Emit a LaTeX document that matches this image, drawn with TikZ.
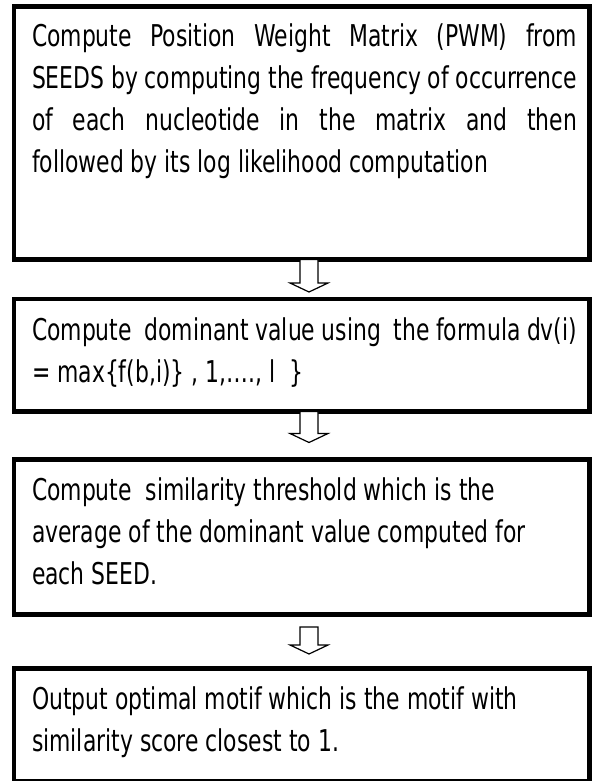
\documentclass[tikz,border=0pt]{standalone}
\usepackage{fontspec}
\setmainfont{DejaVu Sans}[FakeStretch=0.73]
\usetikzlibrary{calc}
\begin{document}
\begin{tikzpicture}[x=1pt,y=-1pt,
  stepbox/.style={draw=black, line width=4.5pt, inner sep=0pt, outer sep=0pt, minimum width=575.5pt, anchor=north west},
  txt/.style={inner sep=0pt, outer sep=0pt, anchor=base west, font=\fontsize{30}{42}\selectfont},
  blk/.style={draw=black, line width=1.2pt, fill=white, line join=miter}]
\useasboundingbox (0,0) rectangle (594,781);
\node[stepbox, minimum height=253pt] (b1) at (14,6.5) {};
\node[stepbox, minimum height=112.5pt] (b2) at (14,299) {};
\node[stepbox, minimum height=155pt] (b3) at (14,459.5) {};
\node[stepbox, minimum height=112.5pt] (b4) at (14,668.5) {};

\node[txt] (t1) at (32,47) {\parbox[t]{545pt}{\fontsize{30}{42}\selectfont\parindent=0pt
Compute Position Weight Matrix (PWM) from\linebreak
SEEDS by computing the frequency of occurrence\linebreak
of each nucleotide in the matrix and then\linebreak
followed by its log likelihood computation}};
\node[txt] (t2) at (32,340) {\parbox[t]{545pt}{\fontsize{30}{42}\selectfont\parindent=0pt
Compute~ dominant value using~ the formula dv(i)\linebreak
= max\{f(b,i)\} , 1,…., l~ \}}};
\node[txt] (t3) at (32,500.5) {\parbox[t]{545pt}{\fontsize{30}{42}\selectfont\parindent=0pt\raggedright
Compute~ similarity threshold which is the\\
average of the dominant value computed for\\
each SEED.}};
\node[txt] (t4) at (32,709.5) {\parbox[t]{545pt}{\fontsize{30}{42}\selectfont\parindent=0pt\raggedright
Output optimal motif which is the motif with\\
similarity score closest to 1.}};

\coordinate (a1s) at (b1.south -| 309,0);
\coordinate (a1e) at ($(b2.north -| 309,0)+(0,-7)$);
\coordinate (a2s) at (b2.south -| 309,0);
\coordinate (a2e) at ($(b3.north -| 309,0)+(0,-17)$);
\coordinate (a3s) at ($(b3.south -| 309,0)+(0,12.5)$);
\coordinate (a3e) at ($(b4.north -| 309,0)+(0,-14.5)$);
\foreach \s/\e in {a1s/a1e,a2s/a2e,a3s/a3e}{
  \draw[blk] ($(\s)+(-9,0)$) -- ($(\e)+(-9,-9)$) -- ($(\e)+(-19,-9)$) -- (\e) -- ($(\e)+(19,-9)$) -- ($(\e)+(9,-9)$) -- ($(\s)+(9,0)$) -- cycle;
}
\end{tikzpicture}
\end{document}
